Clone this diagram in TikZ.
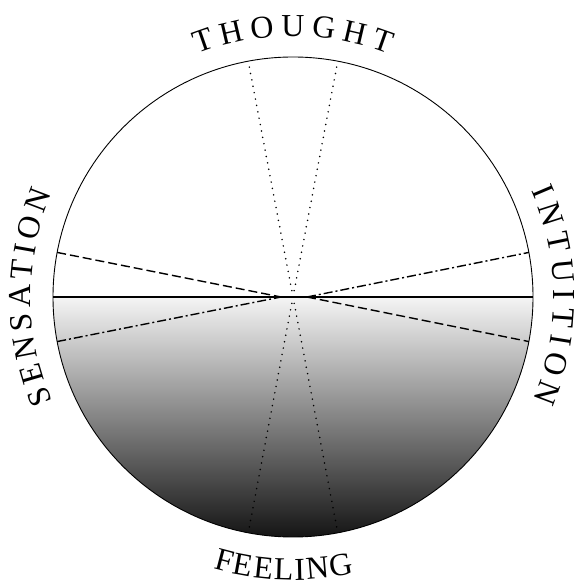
\documentclass[tikz,border=0pt]{standalone}
\usepackage{fontspec}
\setmainfont{Liberation Serif}
\usetikzlibrary{decorations.text}
\tikzset{
  rim/.style={draw=black, line width=0.9pt},
  axisline/.style={draw=black, line width=2.2pt},
  dashline/.style={draw=black, line width=1.4pt, dash pattern=on 9pt off 4pt},
  dashdotline/.style={draw=black, line width=1.4pt, dash pattern=on 9pt off 3pt on 2pt off 3pt},
  dotline/.style={draw=black, line width=1.7pt, line cap=round, dash pattern=on 0pt off 6.5pt},
  arclabel/.style={decorate, decoration={text along path, text align={fit to path}, text={#1}}}
}
\newcommand{\lblfont}{\fontsize{32}{38}\selectfont}
\begin{document}
\begin{tikzpicture}[x=1pt,y=1pt]
\lblfont
\useasboundingbox (0,0) rectangle (574,583);
\coordinate (C) at (293,286);
% shaded lower half
\shade[top color=black!4, bottom color=black!92]
  ([shift={(180:240)}]C) arc (180:360:240) -- cycle;
% end points on the rim
\coordinate (L1) at ([shift={(169.3:240)}]C);
\coordinate (L2) at ([shift={(190.7:240)}]C);
\coordinate (R1) at ([shift={(10.7:240)}]C);
\coordinate (R2) at ([shift={(-10.7:240)}]C);
\coordinate (VL) at (281,286);
\coordinate (VR) at (307,286);
\coordinate (T1) at ([shift={(100.75:234)}]C);
\coordinate (T2) at ([shift={(79.25:234)}]C);
\coordinate (B1) at ([shift={(280.75:236)}]C);
\coordinate (B2) at ([shift={(259.25:236)}]C);
\coordinate (HL) at ([shift={(180:240)}]C);
\coordinate (HR) at ([shift={(0:240)}]C);
% dotted lines
\draw[dotline] (T1) -- (B1);
\draw[dotline] (T2) -- (B2);
% dashed and dash-dot lines
\draw[dashline] (L1) -- (VL);
\draw[dashline] (VR) -- (R2);
\draw[dashdotline] (L2) -- (VL);
\draw[dashdotline] (VR) -- (R1);
% horizontal axis
\draw[axisline] (HL) -- (HR);
% rim
\draw[rim] (C) circle (240);
% labels
\path[arclabel={THOUGHT}] ([shift={(111.5:261)}]C) arc (111.5:68.5:261);
\path[arclabel={FEELING}] ([shift={(253.6:283)}]C) arc (253.6:282.5:283);
\path[arclabel={SENSATION}] ([shift={(203.4:262)}]C) arc (203.4:156.7:262);
\path[arclabel={INTUITION}] ([shift={(24.1:261)}]C) arc (24.1:-23.3:261);
\end{tikzpicture}
\end{document}
